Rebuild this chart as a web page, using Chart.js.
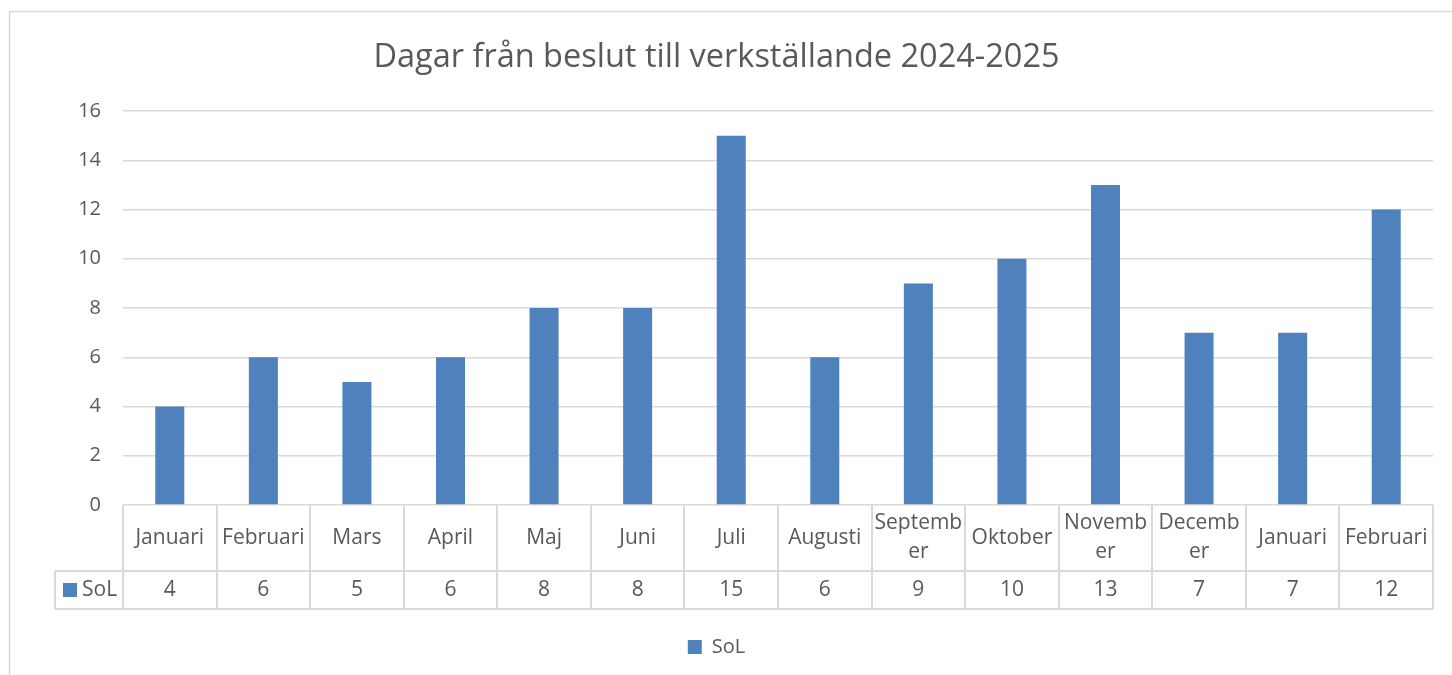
<!DOCTYPE html>
<html lang="sv">
<head>
<meta charset="utf-8">
<title>Dagar från beslut till verkställande 2024-2025</title>
<script src="https://cdn.jsdelivr.net/npm/chart.js@4"></script>
<style>
  html, body { margin: 0; padding: 0; background: #fff; }
  #wrap { position: relative; width: 1452px; height: 675px; }
</style>
</head>
<body>
<div id="wrap"><canvas id="chart" width="1452" height="675"></canvas></div>
<script>
// ===== Data =====
const chartTitle = "Dagar från beslut till verkställande 2024-2025";
const months = ["Januari", "Februari", "Mars", "April", "Maj", "Juni", "Juli",
  "Augusti", "September", "Oktober", "November", "December", "Januari", "Februari"];
const seriesName = "SoL";
const solValues = [4, 6, 5, 6, 8, 8, 15, 6, 9, 10, 13, 7, 7, 12];
const yMin = 0, yMax = 16, yStep = 2;

const FONT = "'Open Sans', 'Noto Sans', sans-serif";
const TEXT = "#595959";
const GRID = "#d9d9d9";
const BAR = "#4f81bd";

// split a label by characters so it fits the cell, like Excel does
function wrapLabel(ctx, text, maxW) {
  const lines = [];
  let cur = "";
  for (const ch of text) {
    if (cur && ctx.measureText(cur + ch).width > maxW) {
      lines.push(cur);
      cur = ch;
    } else {
      cur += ch;
    }
  }
  if (cur) lines.push(cur);
  return lines;
}

// ===== Frame + data table =====
const tablePlugin = {
  id: "dataTable",
  beforeDraw(chart) {
    const ctx = chart.ctx;
    ctx.save();
    ctx.strokeStyle = GRID;
    ctx.lineWidth = 1.5;
    ctx.strokeRect(9.5, 11.5, 1500, 700);
    ctx.restore();
  },
  afterDraw(chart) {
    const ctx = chart.ctx;
    const area = chart.chartArea;
    const x = chart.scales.x;
    const n = months.length;
    const cw = (area.right - area.left) / n;
    const top = area.bottom;
    const mid = top + 66;
    const bottom = mid + 38;
    const legendLeft = 55;

    ctx.save();
    ctx.strokeStyle = GRID;
    ctx.lineWidth = 2;
    ctx.beginPath();
    for (let i = 0; i <= n; i++) {
      const px = Math.round(area.left + i * cw);
      ctx.moveTo(px, top);
      ctx.lineTo(px, bottom);
    }
    ctx.moveTo(legendLeft, mid);
    ctx.lineTo(area.right, mid);
    ctx.moveTo(legendLeft, bottom);
    ctx.lineTo(area.right, bottom);
    ctx.moveTo(legendLeft, mid);
    ctx.lineTo(legendLeft, bottom);
    ctx.stroke();

    ctx.fillStyle = TEXT;
    ctx.font = "21px " + FONT;
    ctx.textAlign = "center";
    ctx.textBaseline = "middle";
    months.forEach((m, i) => {
      const cx = x.getPixelForValue(i);
      const lines = wrapLabel(ctx, m, cw - 3);
      const lh = 29;
      const y0 = (top + mid) / 2 - (lines.length - 1) * lh / 2;
      lines.forEach((ln, k) => ctx.fillText(ln, cx, y0 + k * lh));
      ctx.fillText(String(solValues[i]), cx, (mid + bottom) / 2);
    });

    // series key in the value row
    ctx.fillStyle = BAR;
    ctx.fillRect(legendLeft + 8, (mid + bottom) / 2 - 7, 14, 14);
    ctx.fillStyle = TEXT;
    ctx.textAlign = "left";
    ctx.fillText(seriesName, legendLeft + 27, (mid + bottom) / 2);
    ctx.restore();
  }
};

const ctx = document.getElementById("chart").getContext("2d");
new Chart(ctx, {
  type: "bar",
  data: {
    labels: months,
    datasets: [{
      label: seriesName,
      data: solValues,
      backgroundColor: BAR,
      borderWidth: 0,
      barPercentage: 0.31,
      categoryPercentage: 1
    }]
  },
  options: {
    responsive: false,
    animation: false,
    layout: { padding: { left: 0, right: 19, top: 0, bottom: 8 } },
    plugins: {
      title: {
        display: true,
        text: chartTitle,
        color: TEXT,
        font: { family: FONT, size: 32.5, weight: "normal" },
        padding: { top: 38, bottom: 34 }
      },
      legend: {
        position: "bottom",
        labels: {
          color: TEXT,
          font: { family: FONT, size: 20 },
          boxWidth: 14,
          boxHeight: 14,
          padding: 10
        }
      },
      tooltip: { enabled: false }
    },
    scales: {
      x: {
        grid: { display: false },
        border: { display: false },
        ticks: { display: false },
        afterFit(scale) { scale.height = 122; }
      },
      y: {
        min: yMin,
        max: yMax,
        ticks: {
          stepSize: yStep,
          color: TEXT,
          font: { family: FONT, size: 20 },
          padding: 22
        },
        grid: { color: GRID, lineWidth: 1.5, drawTicks: false },
        border: { display: false },
        afterFit(scale) { scale.width = 123; }
      }
    }
  },
  plugins: [tablePlugin]
});
</script>
</body>
</html>
